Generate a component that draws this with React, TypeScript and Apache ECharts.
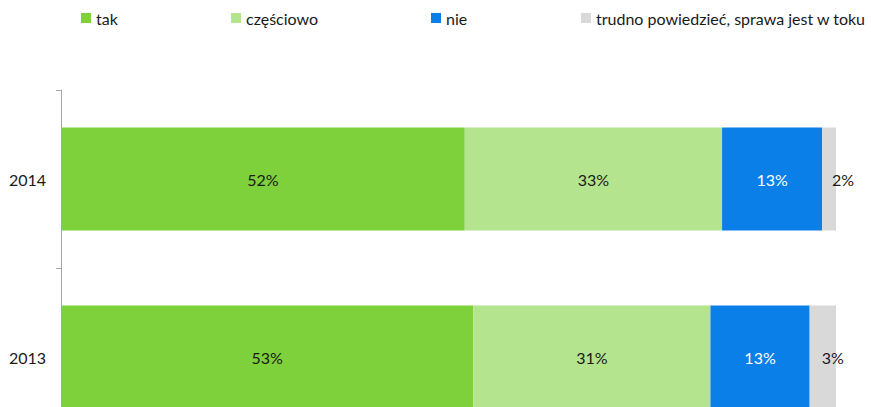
import React, { useEffect, useRef } from "react";
import * as echarts from "echarts";

const categories = ["2013", "2014"];
const seriesNames = ["tak", "częściowo", "nie", "trudno powiedzieć, sprawa jest w toku"];
const tak = [53.2, 52.1];
const czesciowo = [30.6, 33.2];
const nie = [12.8, 12.9];
const trudno = [3.4, 1.8];
const colors = ["#7ed13b", "#b4e48e", "#0a7fe8", "#d9d9d9"];
const labelColors = ["#1a1a1a", "#1a1a1a", "#ffffff", "#1a1a1a"];
const legendLefts = [81, 231, 431, 581];
const outsideLabelOffsets = [10, 14];

export default function App() {
  const ref = useRef<HTMLDivElement>(null);
  useEffect(() => {
    if (!ref.current) return;
    const chart = echarts.init(ref.current, null, { renderer: "svg" });
    const values = [tak, czesciowo, nie, trudno];
    const font = "Lato";
    chart.setOption({
      animation: false,
      textStyle: { fontFamily: font },
      legend: seriesNames.map((name, i) => ({
        left: legendLefts[i],
        top: 10,
        padding: 0,
        itemWidth: 10,
        itemHeight: 10,
        icon: "rect",
        selectedMode: false,
        textStyle: { fontFamily: font, fontSize: 16, color: "#1a1a1a" },
        data: [name],
      })),
      grid: { left: 61, top: 90, width: 775, height: 356, containLabel: false },
      xAxis: { type: "value", min: 0, max: 100, show: false },
      yAxis: {
        type: "category",
        data: categories,
        axisLine: { show: true, lineStyle: { color: "#a6a6a6", width: 1 } },
        axisTick: { show: true, length: 5, lineStyle: { color: "#a6a6a6" } },
        axisLabel: { color: "#1a1a1a", fontSize: 16, fontFamily: font, margin: 15 },
        splitLine: { show: false },
      },
      series: seriesNames.map((name, i) => ({
        name,
        type: "bar",
        stack: "total",
        barWidth: 103,
        itemStyle: { color: colors[i] },
        label: {
          show: true,
          position: "inside",
          color: labelColors[i],
          fontSize: 16,
          fontFamily: font,
          formatter: (p: any) => Math.round(p.value) + "%",
        },
        data: values[i].map((v, j) =>
          i === 3 ? { value: v, label: { offset: [outsideLabelOffsets[j], 0] } } : v
        ),
      })),
    });
    return () => chart.dispose();
  }, []);
  return (
    <div style={{ position: "absolute", left: 0, top: 0, width: 871, height: 407, overflow: "hidden" }}>
      <div ref={ref} style={{ width: 871, height: 480 }} />
    </div>
  );
}
